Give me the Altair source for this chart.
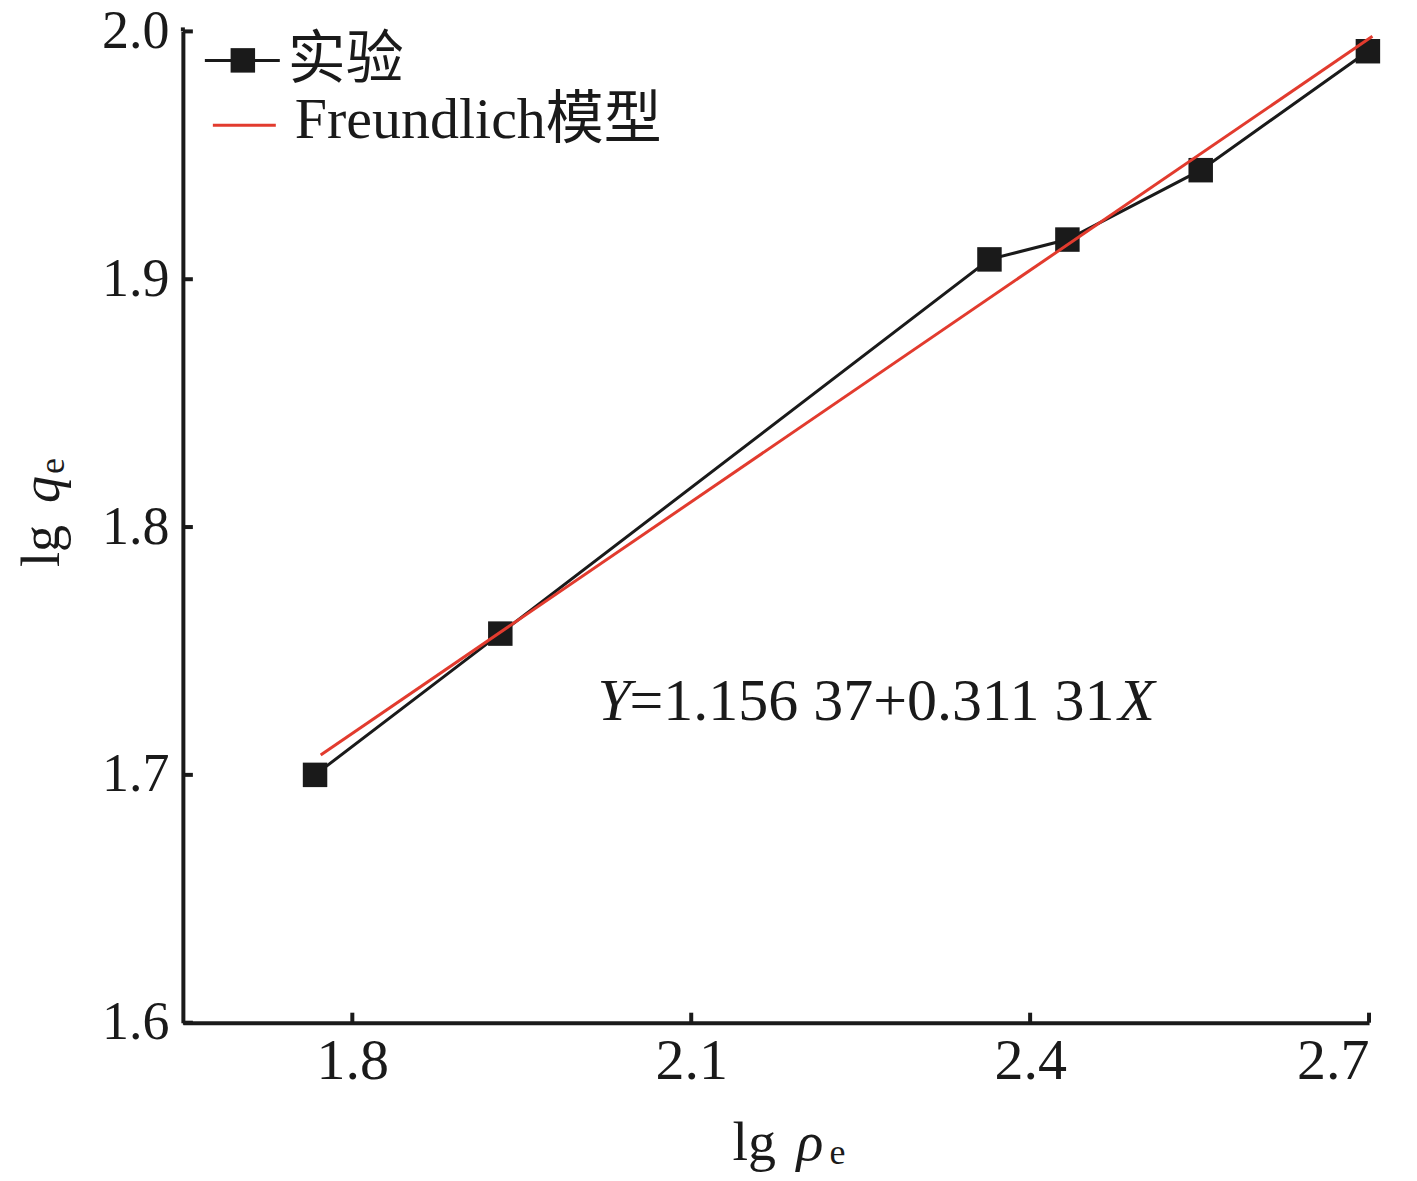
import altair as alt
import pandas as pd

# ---- data ----
exp_x = [1.767, 1.931, 2.364, 2.433, 2.551, 2.699]
exp_y = [1.700, 1.757, 1.908, 1.916, 1.944, 1.992]
fit_x = [1.772, 2.703]
fit_y = [1.708, 1.998]
x_ticks = [1.8, 2.1, 2.4, 2.7]
y_ticks = [1.6, 1.7, 1.8, 1.9, 2.0]
x_domain = [1.65, 2.7]
y_domain = [1.6, 2.0]

SERIF = "Liberation Serif, 'Noto Sans CJK SC', serif"
BLACK = "#1a1a1a"
RED = "#e23b2e"
TOP = 23
W, H = 1187, 992
FS = 58

exp_df = pd.DataFrame({"x": exp_x, "y": exp_y})
fit_df = pd.DataFrame({"x": fit_x, "y": fit_y})
xs = alt.Scale(domain=x_domain, nice=False, zero=False)
ys = alt.Scale(domain=y_domain, nice=False, zero=False)

x_axis = alt.Axis(values=x_ticks, format=".1f", ticks=False, grid=False, title=None,
                  domainWidth=4, domainColor=BLACK, labelFont=SERIF, labelFontSize=FS,
                  labelColor=BLACK, labelPadding=10)
y_axis = alt.Axis(values=y_ticks, format=".1f", ticks=False, grid=False, title=None,
                  domainWidth=4, domainColor=BLACK, labelFont=SERIF, labelFontSize=54,
                  labelColor=BLACK, labelPadding=14, labelBaseline="middle")

base = alt.Chart(exp_df)
exp_line = base.mark_line(color=BLACK, strokeWidth=3).encode(
    x=alt.X("x:Q", scale=xs, axis=x_axis),
    y=alt.Y("y:Q", scale=ys, axis=y_axis),
)
exp_pts = base.mark_square(size=600, color=BLACK, filled=True, opacity=1).encode(
    x=alt.X("x:Q", scale=xs, axis=x_axis), y=alt.Y("y:Q", scale=ys, axis=y_axis)
)
fit_line = alt.Chart(fit_df).mark_line(color=RED, strokeWidth=3).encode(
    x=alt.X("x:Q", scale=xs, axis=x_axis), y=alt.Y("y:Q", scale=ys, axis=y_axis)
)

# inward ticks
xt = alt.Chart(pd.DataFrame({"x": x_ticks})).mark_rule(color=BLACK, strokeWidth=4).encode(
    x=alt.X("x:Q", scale=xs, axis=x_axis), y=alt.value(H), y2=alt.value(H - 10)
)
yt = alt.Chart(pd.DataFrame({"y": y_ticks})).mark_rule(color=BLACK, strokeWidth=4).encode(
    y=alt.Y("y:Q", scale=ys, axis=y_axis), x=alt.value(0), x2=alt.value(10)
)
# slight extension of the y axis line above 2.0, as in the reference
ytop = alt.Chart(alt.Data(values=[{"k": 1}])).mark_rule(color=BLACK, strokeWidth=4).encode(
    x=alt.value(0), y=alt.value(-4), y2=alt.value(0)
)

one = alt.Data(values=[{"k": 1}])


def txt(s, x, y, size=FS, style="normal", angle=0, align="left", baseline="alphabetic"):
    # x, y given in page pixels; converted to plot-area pixels
    return alt.Chart(one).mark_text(
        text=s, fontSize=size, fontStyle=style, angle=angle, align=align,
        baseline=baseline, font=SERIF, color=BLACK
    ).encode(x=alt.value(x - 183), y=alt.value(y - 8 - TOP))


# axis titles
x_title = [
    txt("lg", 733, 1160, size=56),
    txt("ρ", 797, 1160, size=56, style="italic"),
    txt("e", 830, 1164, size=36),
]
y_title = [
    txt("lg", 59, 567, size=54, angle=270),
    txt("q", 59, 503, size=54, style="italic", angle=270),
    txt("e", 64, 474, size=36, angle=270),
]

# equation
eq = [
    txt("Y", 598, 720, size=60, style="italic"),
    txt("=1.156 37+0.311 31", 630, 720, size=60),
    txt("X", 1119, 720, size=60, style="italic"),
]

# legend (page-pixel positions)
def lx(v):
    return alt.value(v - 183)


def ly(v):
    return alt.value(v - 8 - TOP)


leg_rule1 = alt.Chart(one).mark_rule(color=BLACK, strokeWidth=3).encode(
    x=lx(205), x2=lx(280), y=ly(60)
)
leg_sq = alt.Chart(one).mark_square(size=600, color=BLACK, filled=True, opacity=1).encode(
    x=lx(243), y=ly(60)
)
leg_rule2 = alt.Chart(one).mark_rule(color=RED, strokeWidth=3).encode(
    x=lx(213), x2=lx(276), y=ly(125)
)
leg_txt = [
    txt("实验", 288, 78),
    txt("Freundlich模型", 295, 138),
]

chart = alt.layer(
    exp_line, exp_pts, fit_line, xt, yt, ytop,
    *x_title, *y_title, *eq, leg_rule1, leg_sq, leg_rule2, *leg_txt
).properties(
    width=W, height=H,
    autosize=alt.AutoSizeParams(type="none"),
    padding={"left": 175, "top": TOP, "right": 40, "bottom": 150},
).configure_view(stroke=None)

chart.save("out.html", embed_options={"renderer": "svg", "actions": False})
